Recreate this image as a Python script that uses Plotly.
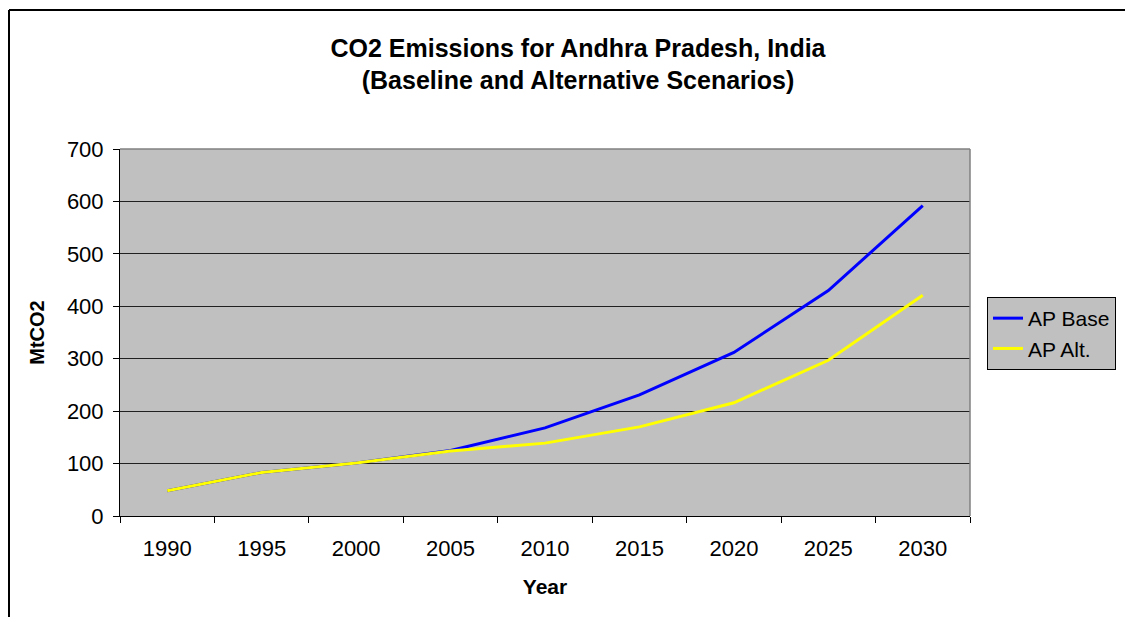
import plotly.graph_objects as go

years = ["1990", "1995", "2000", "2005", "2010", "2015", "2020", "2025", "2030"]
ap_base = [48, 83, 101, 125, 168, 231, 312, 430, 592]
ap_alt = [48, 83, 101, 124, 139, 170, 216, 297, 421]
y_ticks = [0, 100, 200, 300, 400, 500, 600, 700]

# page offset from default body margin
OFF = 8
W, H = 1133 - OFF, 617 - OFF
L, R, T, B = 120 - OFF, 970 - OFF, 149 - OFF, 516 - OFF

fig = go.Figure()
fig.add_trace(go.Scatter(x=years, y=ap_base, mode="lines", name="AP Base",
                         line=dict(color="#0000ff", width=3)))
fig.add_trace(go.Scatter(x=years, y=ap_alt, mode="lines", name="AP Alt.",
                         line=dict(color="#ffff00", width=3)))

def px(x):
    return (x - OFF - L) / (R - L)

def py(y):
    return (B - (y - OFF)) / (B - T)

fig.update_layout(
    width=W, height=H,
    margin=dict(l=L, r=W - R, t=T, b=H - B, pad=0),
    paper_bgcolor="white",
    plot_bgcolor="#c0c0c0",
    font=dict(family="Liberation Sans, Arial, sans-serif", color="black", size=21),
    title=dict(text="<b>CO2 Emissions for Andhra Pradesh, India<br>(Baseline and Alternative Scenarios)</b>",
               x=(578 - OFF) / W, xanchor="center", y=1 - (56.5 - OFF) / H, yanchor="middle",
               font=dict(size=25)),
    xaxis=dict(type="category", tickson="boundaries", ticks="outside", ticklen=6,
               tickcolor="black", showline=True, linecolor="black", linewidth=1,
               showgrid=False, tickfont=dict(size=22), ticklabelstandoff=13,
               range=[-0.5, len(years) - 0.5],
               title=dict(text="<b>Year</b>", font=dict(size=21), standoff=18),
               zeroline=False),
    yaxis=dict(range=[0, 700], tickvals=y_ticks, ticks="outside", ticklen=6,
               tickcolor="black", showline=True, linecolor="black", linewidth=1,
               showgrid=True, gridcolor="#202020", gridwidth=1, tickfont=dict(size=22),
               ticklabelstandoff=5,
               title=dict(text="<b>MtCO2</b>", font=dict(size=20), standoff=16),
               zeroline=False),
    legend=dict(x=px(987), y=py(297), xanchor="left", yanchor="top",
                bgcolor="#c0c0c0", bordercolor="black", borderwidth=1,
                font=dict(size=21), tracegroupgap=0),
    showlegend=True,
)

# plot-area border (top and right in gray)
fig.add_shape(type="line", xref="paper", yref="paper", x0=0, x1=1, y0=1, y1=1,
              line=dict(color="#808080", width=1.5))
fig.add_shape(type="line", xref="paper", yref="paper", x0=1, x1=1, y0=0, y1=1,
              line=dict(color="#808080", width=1.5))
# outer chart frame (left and top)
fig.add_shape(type="line", xref="paper", yref="paper", x0=px(9), x1=px(9),
              y0=py(630), y1=py(10), line=dict(color="black", width=2))
fig.add_shape(type="line", xref="paper", yref="paper", x0=px(9), x1=px(1140),
              y0=py(10), y1=py(10), line=dict(color="black", width=2))

fig.write_html("out.html")
